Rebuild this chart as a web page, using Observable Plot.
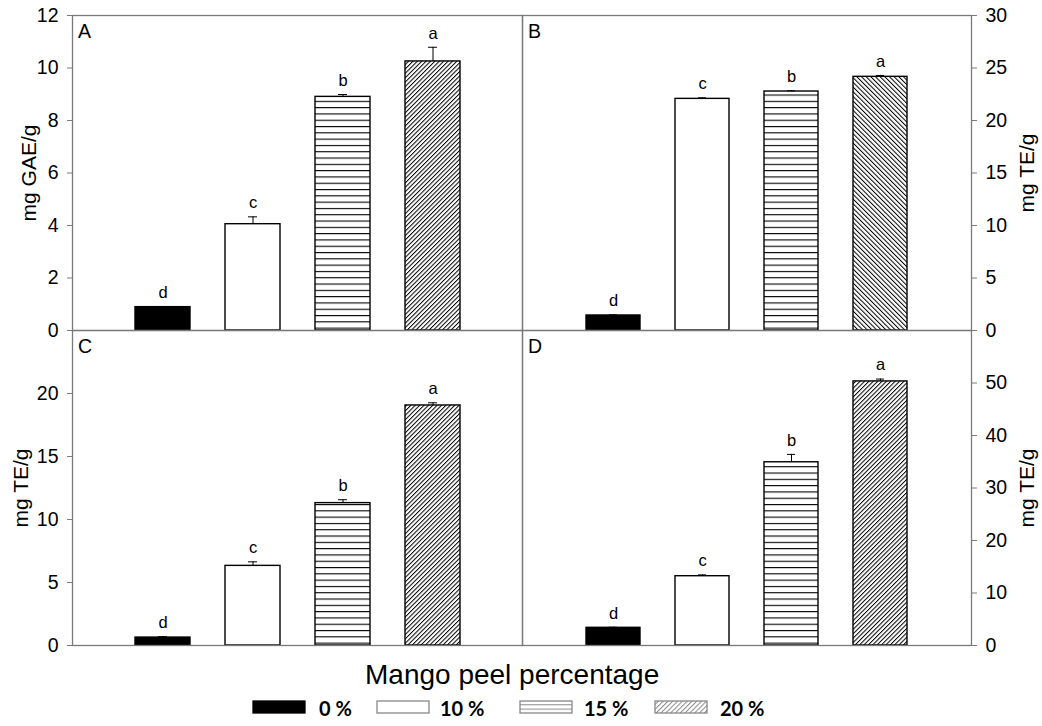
<!DOCTYPE html>
<html><head><meta charset="utf-8">
<script src="https://cdn.jsdelivr.net/npm/d3@7"></script>
<script src="https://cdn.jsdelivr.net/npm/@observablehq/plot@0.6"></script>
<style>
body{margin:0;background:#fff;}
#root{position:relative;width:1042px;height:726px;overflow:hidden;background:#fff;font-family:"Liberation Sans",Arial,sans-serif;}
#root > svg{position:absolute;left:0;top:0;}
.ttl{position:absolute;font-family:"Liberation Sans",Arial,sans-serif;font-size:28px;color:#000;white-space:nowrap;}
.leg{position:absolute;font-family:Lato,"Open Sans",sans-serif;font-weight:700;font-size:20px;color:#000;white-space:nowrap;line-height:1;}
</style>
</head><body><div id="root"></div>
<script>
// ---- data ----
const categories = ["0 %", "10 %", "15 %", "20 %"];
const panelNames = ["A", "B", "C", "D"];
const yLabels = ["mg GAE/g", "mg TE/g", "mg TE/g", "mg TE/g"];
const valuesA = [0.89, 4.05, 8.90, 10.25];
const errorsA = [0.02, 0.28, 0.09, 0.54];
const valuesB = [1.43, 22.06, 22.76, 24.16];
const errorsB = [0.06, 0.10, 0.07, 0.13];
const valuesC = [0.63, 6.32, 11.30, 19.05];
const errorsC = [0.07, 0.32, 0.27, 0.21];
const valuesD = [3.37, 13.20, 34.90, 50.30];
const errorsD = [0.10, 0.25, 1.50, 0.45];
const lettersA = ["d", "c", "b", "a"];
const lettersB = ["d", "c", "b", "a"];
const lettersC = ["d", "c", "b", "a"];
const lettersD = ["d", "c", "b", "a"];
const ticksA = [0, 2, 4, 6, 8, 10, 12];
const ticksB = [0, 5, 10, 15, 20, 25, 30];
const ticksC = [0, 5, 10, 15, 20];
const ticksD = [0, 10, 20, 30, 40, 50];
const domainA = [0, 12], domainB = [0, 30], domainC = [0, 25], domainD = [0, 60];
const legendTitle = "Mango peel percentage";

// ---- patterns ----
const root = document.getElementById("root");
const defs = `<svg width="0" height="0" style="position:absolute;left:0;top:0">
<defs>
<pattern id="hstripe" patternUnits="userSpaceOnUse" width="10" height="6.3">
  <rect width="10" height="6.3" fill="#fff"/><rect y="0" width="10" height="1.1" fill="#000"/></pattern>
<pattern id="hatchR" patternUnits="userSpaceOnUse" width="3.1" height="10" patternTransform="rotate(45)">
  <rect width="3.1" height="10" fill="#fff"/><rect x="0" width="1" height="10" fill="#000"/></pattern>
<pattern id="hatchL" patternUnits="userSpaceOnUse" width="3.3" height="10" patternTransform="rotate(-45)">
  <rect width="3.3" height="10" fill="#fff"/><rect x="0" width="1" height="10" fill="#000"/></pattern>
<pattern id="lhstripe" patternUnits="userSpaceOnUse" width="10" height="4.3">
  <rect width="10" height="4.3" fill="#fff"/><rect y="0" width="10" height="1" fill="#888"/></pattern>
<pattern id="lhatch" patternUnits="userSpaceOnUse" width="3.4" height="10" patternTransform="rotate(45)">
  <rect width="3.4" height="10" fill="#fff"/><rect x="0" width="1" height="10" fill="#888"/></pattern>
</defs></svg>`;
root.insertAdjacentHTML("beforeend", defs);

const W = 1042, H = 726;
const panels = [
  {name: panelNames[0], label: yLabels[0], values: valuesA, errors: errorsA, letters: lettersA, ticks: ticksA, domain: domainA,
   left: 72, right: 522, top: 15, bottom: 330, side: "left", labelDx: -43, hatch: "url(#hatchR)"},
  {name: panelNames[1], label: yLabels[1], values: valuesB, errors: errorsB, letters: lettersB, ticks: ticksB, domain: domainB,
   left: 522, right: 971, top: 15, bottom: 330, side: "right", labelDx: 56, hatch: "url(#hatchL)"},
  {name: panelNames[2], label: yLabels[2], values: valuesC, errors: errorsC, letters: lettersC, ticks: ticksC, domain: domainC,
   left: 72, right: 522, top: 330, bottom: 645, side: "left", labelDx: -51, hatch: "url(#hatchR)"},
  {name: panelNames[3], label: yLabels[3], values: valuesD, errors: errorsD, letters: lettersD, ticks: ticksD, domain: domainD,
   left: 522, right: 971, top: 330, bottom: 645, side: "right", labelDx: 56, hatch: "url(#hatchR)"}
];

for (const p of panels) {
  const data = categories.map((c, i) => ({cat: c, v: p.values[i], top: p.values[i] + p.errors[i], letter: p.letters[i]}));
  const chart = Plot.plot({
    width: W, height: H,
    marginLeft: p.left, marginRight: W - p.right, marginTop: p.top, marginBottom: H - p.bottom,
    style: {background: "transparent", overflow: "visible", fontFamily: '"Liberation Sans", Arial, sans-serif', color: "#000"},
    x: {domain: categories, paddingInner: 0.39, paddingOuter: 0.695, align: 0.5, axis: null},
    y: {domain: p.domain, axis: null},
    color: {type: "ordinal", domain: categories, range: ["#000", "#fff", "url(#hstripe)", p.hatch]},
    marks: [
      Plot.barY(data, {x: "cat", y: "v", fill: "cat", stroke: "#000", strokeWidth: 1.4}),
      Plot.ruleX(data, {x: "cat", y1: "v", y2: "top", stroke: "#000", strokeWidth: 1}),
      Plot.tickY(data, {x: "cat", y: "top", insetLeft: 23, insetRight: 23, stroke: "#000", strokeWidth: 1}),
      Plot.text(data, {x: "cat", y: "top", text: "letter", dy: -14, fontSize: 16.5, fill: "#000"}),
      Plot.frame({stroke: "#7a7a7a", strokeWidth: 1.3}),
      Plot.axisY({anchor: p.side, ticks: p.ticks, tickSize: 5, tickPadding: 9, label: null, fontSize: 19.5,
                  stroke: "#7a7a7a", fill: "#000", tickFormat: d => String(d)}),
      Plot.text([p.name], {frameAnchor: "top-left", dx: 5.5, dy: 9, lineAnchor: "top", textAnchor: "start", fontSize: 19.5, fill: "#000"}),
      Plot.text([p.label], {frameAnchor: p.side, dx: p.labelDx, rotate: -90, textAnchor: "middle", lineAnchor: "middle", fontSize: 21, fill: "#000"})
    ]
  });
  root.appendChild(chart);
}

// ---- legend ----
const title = document.createElement("div");
title.className = "ttl";
title.textContent = legendTitle;
title.style.left = "365px"; title.style.top = "659px";
root.appendChild(title);

const legendSwatchFills = ["#000", "#fff", "url(#lhstripe)", "url(#lhatch)"];
const legendSwatchStrokes = ["#000", "#888", "#888", "#888"];
const swatchX = [253, 377, 520, 655];
const textX = [319, 440, 584, 720];
categories.forEach((c, i) => {
  const s = d3.create("svg").attr("width", 55).attr("height", 15)
    .style("left", (swatchX[i] - 1) + "px").style("top", "700px");
  s.append("rect").attr("x", 1).attr("y", 1).attr("width", 52).attr("height", 12)
    .attr("fill", legendSwatchFills[i]).attr("stroke", legendSwatchStrokes[i]).attr("stroke-width", 1.3);
  root.appendChild(s.node());
  const t = document.createElement("div");
  t.className = "leg";
  t.textContent = c;
  t.style.left = textX[i] + "px"; t.style.top = "698px";
  root.appendChild(t);
});
</script>
</body></html>
